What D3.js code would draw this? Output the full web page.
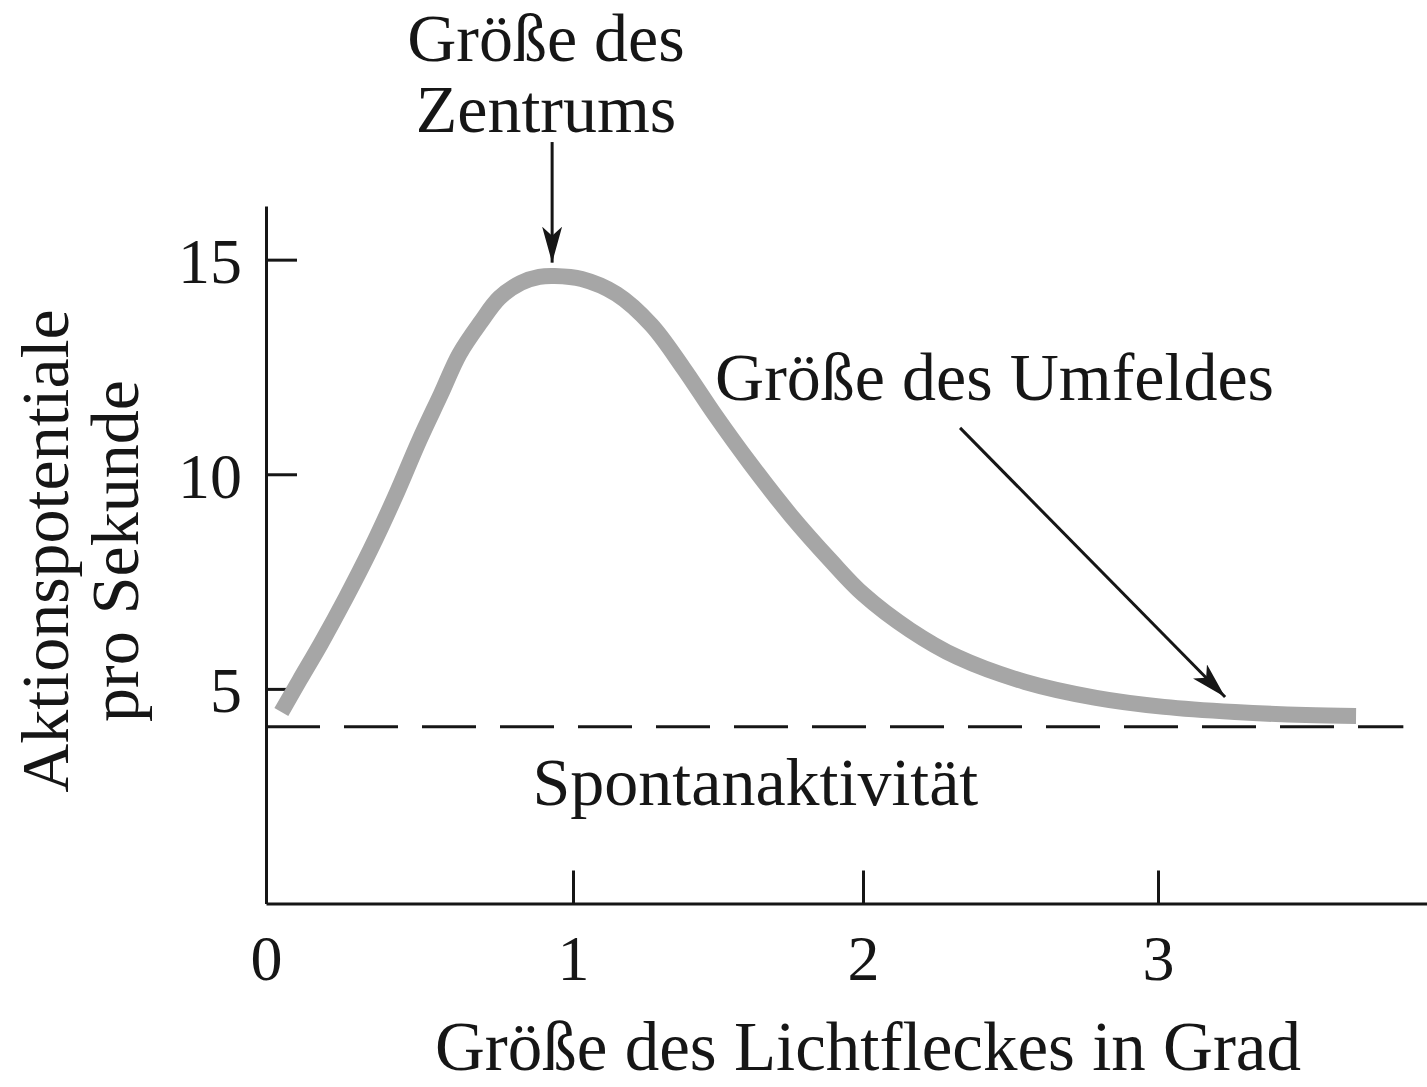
<!DOCTYPE html>
<html>
<head>
<meta charset="utf-8">
<script src="https://cdn.jsdelivr.net/npm/d3@7"></script>
<style>
  body { margin: 0; background: #fff; }
  text { font-family: "Liberation Serif", "Times New Roman", serif; fill: #161616; }
</style>
</head>
<body>
<div id="chart"></div>
<script>
// curve: spot size (deg) vs. action potentials / s
var spotSize = [0.05, 0.11, 0.18, 0.26, 0.34, 0.42, 0.50, 0.57, 0.63, 0.70, 0.76, 0.83, 0.89, 0.94,
                1.03, 1.15, 1.27, 1.38, 1.49, 1.61, 1.75, 1.89, 2.00, 2.16, 2.32, 2.55, 2.79, 3.02, 3.26, 3.50, 3.67];
var rate     = [4.46, 5.21, 6.07, 7.12, 8.24, 9.47, 10.80, 11.87, 12.80, 13.55, 14.11, 14.46, 14.60, 14.62,
                14.55, 14.20, 13.48, 12.48, 11.38, 10.26, 9.05, 7.98, 7.21, 6.37, 5.74, 5.16, 4.79, 4.58, 4.46, 4.39, 4.37];

var spontaneous = 4.12;
var xTicks = [0, 1, 2, 3];
var yTicks = [5, 10, 15];

// annotations, anchored in data units
var labels = [
  {text: "Größe des", x: 0.912, y: 19.64, anchor: "middle"},
  {text: "Zentrums", x: 0.912, y: 17.98, anchor: "middle"},
  {text: "Größe des Umfeldes", x: 1.49, y: 11.73, anchor: "start"},
  {text: "Spontanaktivität", x: 1.629, y: 2.30, anchor: "middle"}
];
var arrows = [
  {x1: 0.932, y1: 17.74, x2: 0.932, y2: 14.93},
  {x1: 2.329, y1: 11.08, x2: 3.227, y2: 4.81}
];

var width = 1427, height = 1087;

// the hand-drawn axis is not quite evenly spaced, so a polylinear scale
var x = d3.scaleLinear().domain([0, 1, 2, 3, 3.91]).range([266, 573, 863, 1158, 1427]);
var y = d3.scaleLinear().domain([0, 16.25]).range([903.5, 206]);

var svg = d3.select("#chart").append("svg")
    .attr("width", width)
    .attr("height", height);

svg.append("defs").append("marker")
    .attr("id", "head")
    .attr("viewBox", "0 0 36 20")
    .attr("refX", 36).attr("refY", 10)
    .attr("markerWidth", 36).attr("markerHeight", 20)
    .attr("markerUnits", "userSpaceOnUse")
    .attr("orient", "auto")
  .append("path")
    .attr("d", "M0,0 L36,10 L0,20 L9,10 Z")
    .attr("fill", "#161616");

// x axis, ticks pointing inwards
var gx = svg.append("g")
    .attr("transform", "translate(0," + y(0) + ")")
    .call(d3.axisBottom(x).tickValues(xTicks).tickSizeInner(-33).tickSizeOuter(0).tickPadding(31).tickFormat(d3.format("d")));

// y axis
var gy = svg.append("g")
    .attr("transform", "translate(" + x(0) + ",0)")
    .call(d3.axisLeft(y).tickValues(yTicks).tickSizeInner(-31).tickSizeOuter(0).tickPadding(24).tickFormat(d3.format("d")));

[gx, gy].forEach(function(g) {
  g.select(".domain").attr("stroke", "#161616").attr("stroke-width", 3);
  g.selectAll(".tick line").attr("stroke", "#161616").attr("stroke-width", 3);
  g.selectAll(".tick text").attr("font-size", 64).attr("fill", "#161616")
      .attr("font-family", "Liberation Serif, serif");
});
gy.selectAll(".tick text").attr("dy", "0.36em");

// spontaneous activity baseline
svg.append("line")
    .attr("x1", x(0)).attr("x2", x(3.83))
    .attr("y1", y(spontaneous)).attr("y2", y(spontaneous))
    .attr("stroke", "#161616")
    .attr("stroke-width", 3)
    .attr("stroke-dasharray", "54,24");

// response curve
var line = d3.line()
    .x(function(d) { return x(d[0]); })
    .y(function(d) { return y(d[1]); })
    .curve(d3.curveCatmullRom.alpha(0.5));

svg.append("path")
    .datum(d3.zip(spotSize, rate))
    .attr("d", line)
    .attr("fill", "none")
    .attr("stroke", "#a6a6a6")
    .attr("stroke-width", 16)
    .attr("stroke-linecap", "butt");

// arrows
svg.selectAll(".arrow")
    .data(arrows)
  .enter().append("line")
    .attr("class", "arrow")
    .attr("x1", function(d) { return x(d.x1); })
    .attr("y1", function(d) { return y(d.y1); })
    .attr("x2", function(d) { return x(d.x2); })
    .attr("y2", function(d) { return y(d.y2); })
    .attr("stroke", "#161616")
    .attr("stroke-width", 3)
    .attr("marker-end", "url(#head)");

// labels
svg.selectAll(".note")
    .data(labels)
  .enter().append("text")
    .attr("class", "note")
    .attr("x", function(d) { return x(d.x); })
    .attr("y", function(d) { return y(d.y); })
    .attr("text-anchor", function(d) { return d.anchor; })
    .attr("font-size", 68)
    .text(function(d) { return d.text; });

// axis titles
svg.append("text")
    .attr("x", 868).attr("y", 1070)
    .attr("text-anchor", "middle")
    .attr("font-size", 69)
    .text("Größe des Lichtfleckes in Grad");

svg.append("text")
    .attr("transform", "translate(68,551) rotate(-90)")
    .attr("text-anchor", "middle")
    .attr("font-size", 68)
    .text("Aktionspotentiale");

svg.append("text")
    .attr("transform", "translate(138,551) rotate(-90)")
    .attr("text-anchor", "middle")
    .attr("font-size", 68)
    .text("pro Sekunde");
</script>
</body>
</html>
